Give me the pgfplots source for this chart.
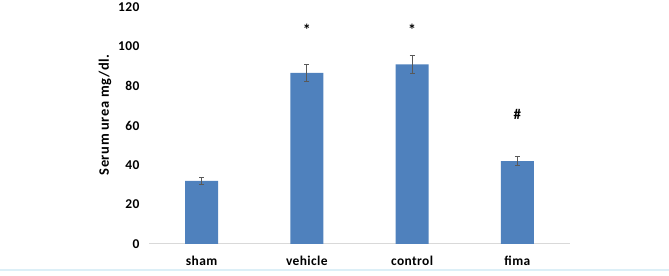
\documentclass[border=0pt]{standalone}
\usepackage{pgfplots}
\pgfplotsset{compat=1.18}
\usepackage{fontspec}
\setmainfont{Carlito}
\newfontfamily\labfont[LetterSpace=4]{Carlito}
\newfontfamily\tickfont[LetterSpace=3]{Carlito}
\definecolor{barblue}{HTML}{4F81BD}
\definecolor{errgray}{HTML}{595959}
\definecolor{axgray}{HTML}{D9D9D9}
\definecolor{edge}{HTML}{DCEFF7}
\begin{document}
\begin{tikzpicture}
\path[use as bounding box] (0,0) rectangle (669bp,276bp);
\draw[edge, line width=1.5bp] (0,6bp) -- (669bp,6bp);
\begin{axis}[
  at={(149bp,32bp)}, anchor=south west,
  scale only axis, width=421bp, height=237bp,
  xmin=-0.5, xmax=3.5, ymin=0, ymax=120,
  axis line style={draw=none},
  xtick={0,1,2,3}, xticklabels={sham,vehicle,control,fima},
  ytick={0,20,40,60,80,100,120},
  tick style={draw=none},
  xticklabel style={font=\tickfont\fontsize{13.5}{15}\selectfont\bfseries, yshift=-9bp},
  yticklabel style={font=\tickfont\fontsize{13.5}{15}\selectfont\bfseries, xshift=-6bp},
  /pgf/number format/assume math mode=true,
  ylabel={Serum urea mg/dl.},
  ylabel style={font=\labfont\fontsize{14.5}{16}\selectfont\bfseries, at={(ticklabel cs:0.545)}},
  clip=false,
]
\draw[axgray, line width=1bp] (axis cs:-0.5,0) -- (axis cs:3.5,0);
\addplot[ybar, bar width=33bp, fill=barblue, draw=none,
  error bars/.cd, y dir=both, y explicit,
  error bar style={errgray, line width=0.9bp},
  error mark options={errgray, line width=0.9bp, mark size=2.5bp, rotate=90}]
  coordinates {(0,31.9) +- (0,1.7) (1,86.7) +- (0,4.3) (2,91.0) +- (0,4.5) (3,41.9) +- (0,2.3)};
\node[font=\fontsize{16}{16}\selectfont\bfseries] at (axis cs:1,108.5) {*};
\node[font=\fontsize{16}{16}\selectfont\bfseries] at (axis cs:2,108.5) {*};
\node[font=\fontsize{15}{16}\selectfont\bfseries] at (axis cs:3,65.5) {\#};
\end{axis}
\end{tikzpicture}
\end{document}
